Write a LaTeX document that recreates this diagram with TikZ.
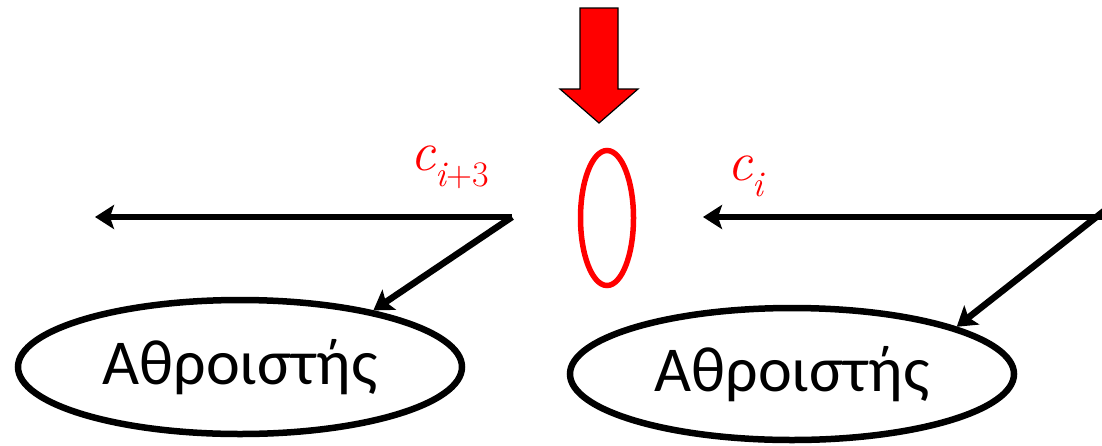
\documentclass[tikz,border=0pt]{standalone}
\usepackage{fontspec}
\newfontfamily\carl{Carlito}
\newfontfamily\lmr{Latin Modern Roman}
\usetikzlibrary{shapes.geometric,arrows.meta}
\begin{document}
\begin{tikzpicture}[x=1pt,y=-1pt,
  adder/.style={ellipse,draw=black,line width=6.5pt,inner sep=0pt,font=\carl\fontsize{64}{70}\selectfont},
  conn/.style={draw=black,line width=6.5pt,-{Stealth[length=19pt,width=24pt,inset=4pt]}},
  clabel/.style={text=red,inner sep=0pt,anchor=base west,font=\lmr\itshape\fontsize{56}{56}\selectfont}]
\useasboundingbox (0,0) rectangle (1102,445);
% adders
\node[adder,minimum width=444pt,minimum height=134pt] (sumL) at (240,367) {Αθροιστής};
\node[adder,minimum width=444pt,minimum height=132pt] (sumR) at (792,374) {Αθροιστής};
% red ellipse
\node[ellipse,draw=red,line width=5.5pt,minimum width=53pt,minimum height=135pt,inner sep=0pt] (ring) at (607,218) {};
% red block arrow
\path[fill=red,draw=black,line width=1.2pt]
  (580,8) -- (618,8) -- (618,89) -- (638,89) -- (599,123) -- (560,89) -- (580,89) -- cycle;
% connectors
\coordinate (jL) at (512,217);
\coordinate (outL) at (95,217);
\coordinate (jR) at (1104,217);
\coordinate (outR) at (703,217);
\draw[conn] (jL) -- (outL);
\draw[conn] (jL) -- (sumL.23);
\draw[conn] (jR) -- (outR);
\draw[conn] ([yshift=6pt]jR) -- (sumR.16);
% labels
\node[clabel] (cip3) at (410,170) {c\raisebox{-16pt}{\fontsize{36}{36}\selectfont i\upshape +3}};
\node[clabel] (ci) at (727,180) {c\raisebox{-16pt}{\fontsize{36}{36}\selectfont i}};
\end{tikzpicture}
\end{document}
